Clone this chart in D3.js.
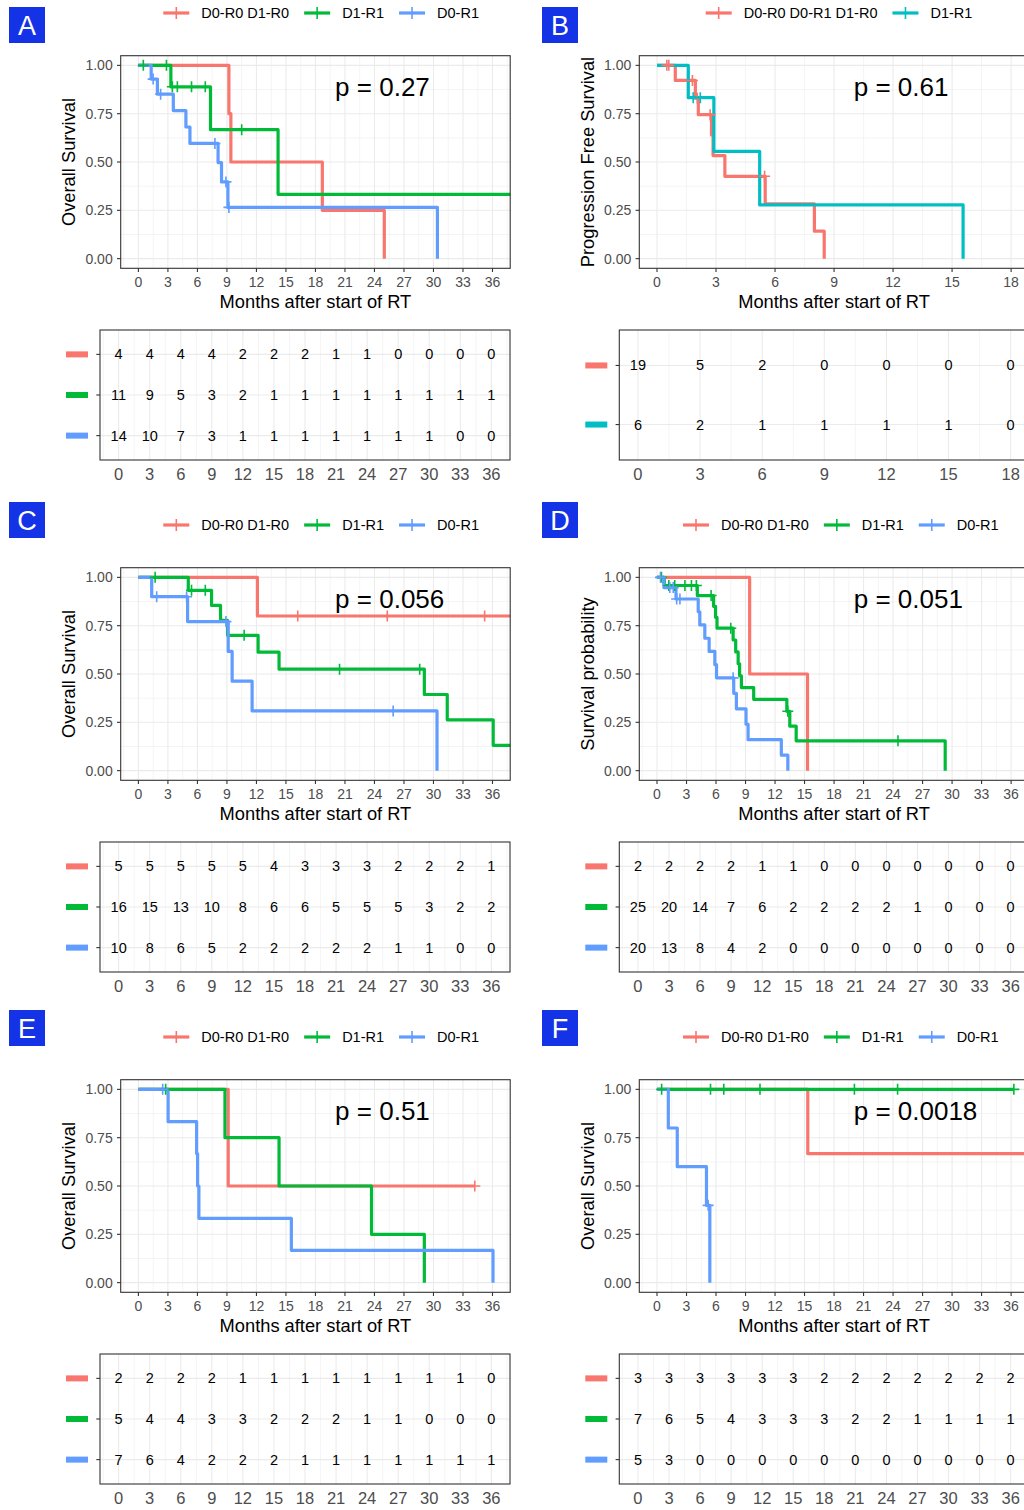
<!DOCTYPE html>
<html>
<head>
<meta charset="utf-8">
<script src="https://cdn.jsdelivr.net/npm/d3@7"></script>
<style>
  body { margin: 0; background: #fff; }
  svg { display: block; font-family: "Liberation Sans", Arial, Helvetica, sans-serif; }
</style>
</head>
<body>
<svg id="fig" width="1024" height="1510"></svg>
<script>
// ---------- shared labels ----------
const panelIds = ["A", "B", "C", "D", "E", "F"];
const yTitles = ["Overall Survival", "Progression Free Survival", "Overall Survival",
                 "Survival probability", "Overall Survival", "Overall Survival"];
const pValues = ["p = 0.27", "p = 0.61", "p = 0.056", "p = 0.051", "p = 0.51", "p = 0.0018"];
const xTitle = "Months after start of RT";
const groupsThree = ["D0-R0 D1-R0", "D1-R1", "D0-R1"];
const groupsTwo = ["D0-R0 D0-R1 D1-R0", "D1-R1"];
const ticks36 = [0, 3, 6, 9, 12, 15, 18, 21, 24, 27, 30, 33, 36];
const ticks18 = [0, 3, 6, 9, 12, 15, 18];
const yTicks = [0, 0.25, 0.5, 0.75, 1];
const yTickLabels = ["0.00", "0.25", "0.50", "0.75", "1.00"];

const COL_RED = "#F8766D", COL_GREEN = "#00BA38", COL_BLUE = "#619CFF", COL_TEAL = "#00BFC4";

// ---------- A: overall survival ----------
// steps: [time, survival after the event]; censor: times of censored patients; end: last follow-up
const A_red_steps = [[9.2, 0.75], [9.4, 0.5], [18.7, 0.25], [25.0, 0]];
const A_red_censor = [];
const A_red_end = 25.0;
const A_green_steps = [[3.3, 0.889], [7.33, 0.667], [14.2, 0.333]];
const A_green_censor = [0.5, 2.85, 3.45, 3.96, 5.4, 6.8, 10.5];
const A_green_end = 40;
const A_blue_steps = [[1.3, 0.929], [1.93, 0.851], [3.55, 0.766], [4.83, 0.681], [5.24, 0.596],
                      [8.1, 0.497], [8.45, 0.397], [9.1, 0.265], [30.4, 0]];
const A_blue_censor = [1.5, 2.26, 7.78, 8.9, 9.2];
const A_blue_end = 30.4;
const A_risk_red = [4, 4, 4, 4, 2, 2, 2, 1, 1, 0, 0, 0, 0];
const A_risk_green = [11, 9, 5, 3, 2, 1, 1, 1, 1, 1, 1, 1, 1];
const A_risk_blue = [14, 10, 7, 3, 1, 1, 1, 1, 1, 1, 1, 0, 0];

// ---------- B: progression free survival ----------
const B_red_steps = [[0.93, 0.922], [1.95, 0.83], [2.1, 0.745], [2.77, 0.64], [2.85, 0.533],
                     [3.45, 0.426], [5.5, 0.284], [8.0, 0.142], [8.5, 0]];
const B_red_censor = [0.5, 0.6, 1.8, 2.05, 2.7, 5.47];
const B_red_end = 8.5;
const B_teal_steps = [[1.59, 0.833], [2.89, 0.555], [5.22, 0.278], [15.56, 0]];
const B_teal_censor = [1.84, 2.2];
const B_teal_end = 15.56;
const B_risk_red = [19, 5, 2, 0, 0, 0, 0];
const B_risk_teal = [6, 2, 1, 1, 1, 1, 0];

// ---------- C ----------
const C_red_steps = [[12.1, 0.8]];
const C_red_censor = [16.2, 25.3, 35.2];
const C_red_end = 40;
const C_green_steps = [[5.07, 0.933], [7.44, 0.855], [8.35, 0.778], [9.06, 0.700], [12.17, 0.613],
                       [14.3, 0.525], [29.07, 0.394], [31.4, 0.263], [36.07, 0.131]];
const C_green_censor = [1.7, 5.4, 6.8, 10.75, 20.45, 28.6];
const C_green_end = 40;
const C_blue_steps = [[1.35, 0.9], [5.0, 0.771], [9.13, 0.617], [9.53, 0.463], [11.56, 0.309], [30.36, 0]];
const C_blue_censor = [1.86, 4.9, 8.9, 25.9];
const C_blue_end = 30.36;
const C_risk_red = [5, 5, 5, 5, 5, 4, 3, 3, 3, 2, 2, 2, 1];
const C_risk_green = [16, 15, 13, 10, 8, 6, 6, 5, 5, 5, 3, 2, 2];
const C_risk_blue = [10, 8, 6, 5, 2, 2, 2, 2, 2, 1, 1, 0, 0];

// ---------- D ----------
const D_red_steps = [[9.42, 0.5], [15.3, 0]];
const D_red_censor = [];
const D_red_end = 15.3;
const D_green_steps = [[0.74, 0.958], [4.1, 0.906], [5.75, 0.85], [5.95, 0.793], [6.1, 0.737],
                       [7.74, 0.676], [8.0, 0.614], [8.25, 0.553], [8.4, 0.491], [8.58, 0.430],
                       [9.83, 0.369], [13.2, 0.307], [13.5, 0.230], [14.15, 0.154], [29.3, 0]];
const D_green_censor = [0.45, 1.2, 1.8, 2.84, 3.5, 4.0, 5.5, 7.5, 13.3, 24.5];
const D_green_end = 29.3;
const D_blue_steps = [[0.7, 0.947], [1.93, 0.888], [4.19, 0.822], [4.35, 0.754], [4.86, 0.685],
                      [5.3, 0.617], [5.88, 0.548], [6.05, 0.480], [7.8, 0.40], [8.07, 0.32],
                      [9.05, 0.24], [9.26, 0.16], [12.64, 0.08], [13.3, 0]];
const D_blue_censor = [0.35, 1.3, 1.65, 2.0, 2.33, 7.74];
const D_blue_end = 13.3;
const D_risk_red = [2, 2, 2, 2, 1, 1, 0, 0, 0, 0, 0, 0, 0];
const D_risk_green = [25, 20, 14, 7, 6, 2, 2, 2, 2, 1, 0, 0, 0];
const D_risk_blue = [20, 13, 8, 4, 2, 0, 0, 0, 0, 0, 0, 0, 0];

// ---------- E ----------
const E_red_steps = [[9.13, 0.5]];
const E_red_censor = [34.2];
const E_red_end = 34.2;
const E_green_steps = [[8.8, 0.75], [14.3, 0.5], [23.7, 0.25], [29.07, 0]];
const E_green_censor = [2.77];
const E_green_end = 29.07;
const E_blue_steps = [[3.02, 0.833], [5.92, 0.667], [6.02, 0.5], [6.15, 0.333], [15.55, 0.167], [36.05, 0]];
const E_blue_censor = [2.47];
const E_blue_end = 36.05;
const E_risk_red = [2, 2, 2, 2, 1, 1, 1, 1, 1, 1, 1, 1, 0];
const E_risk_green = [5, 4, 4, 3, 3, 2, 2, 2, 1, 1, 0, 0, 0];
const E_risk_blue = [7, 6, 4, 2, 2, 2, 1, 1, 1, 1, 1, 1, 1];

// ---------- F ----------
const F_red_steps = [[15.33, 0.667]];
const F_red_censor = [];
const F_red_end = 40;
const F_green_steps = [];
const F_green_censor = [0.47, 5.44, 6.79, 10.47, 20.07, 24.46, 36.28];
const F_green_end = 36.28;
const F_blue_steps = [[1.15, 0.8], [2.06, 0.6], [5.03, 0.4], [5.37, 0]];
const F_blue_censor = [5.2];
const F_blue_end = 5.37;
const F_risk_red = [3, 3, 3, 3, 3, 3, 2, 2, 2, 2, 2, 2, 2];
const F_risk_green = [7, 6, 5, 4, 3, 3, 3, 2, 2, 1, 1, 1, 1];
const F_risk_blue = [5, 3, 0, 0, 0, 0, 0, 0, 0, 0, 0, 0, 0];

// ---------- assemble panel specs ----------
function grp(name, color, steps, censor, end, risk) {
  return { name, color, steps, censor, end, risk };
}
const panels = [
  { row: 0, col: 0, ticks: ticks36, legendX: 163.3, groups: [
    grp(groupsThree[0], COL_RED, A_red_steps, A_red_censor, A_red_end, A_risk_red),
    grp(groupsThree[1], COL_GREEN, A_green_steps, A_green_censor, A_green_end, A_risk_green),
    grp(groupsThree[2], COL_BLUE, A_blue_steps, A_blue_censor, A_blue_end, A_risk_blue)] },
  { row: 0, col: 1, ticks: ticks18, legendX: 705.7, groups: [
    grp(groupsTwo[0], COL_RED, B_red_steps, B_red_censor, B_red_end, B_risk_red),
    grp(groupsTwo[1], COL_TEAL, B_teal_steps, B_teal_censor, B_teal_end, B_risk_teal)] },
  { row: 1, col: 0, ticks: ticks36, legendX: 163.3, groups: [
    grp(groupsThree[0], COL_RED, C_red_steps, C_red_censor, C_red_end, C_risk_red),
    grp(groupsThree[1], COL_GREEN, C_green_steps, C_green_censor, C_green_end, C_risk_green),
    grp(groupsThree[2], COL_BLUE, C_blue_steps, C_blue_censor, C_blue_end, C_risk_blue)] },
  { row: 1, col: 1, ticks: ticks36, legendX: 683, groups: [
    grp(groupsThree[0], COL_RED, D_red_steps, D_red_censor, D_red_end, D_risk_red),
    grp(groupsThree[1], COL_GREEN, D_green_steps, D_green_censor, D_green_end, D_risk_green),
    grp(groupsThree[2], COL_BLUE, D_blue_steps, D_blue_censor, D_blue_end, D_risk_blue)] },
  { row: 2, col: 0, ticks: ticks36, legendX: 163.3, groups: [
    grp(groupsThree[0], COL_RED, E_red_steps, E_red_censor, E_red_end, E_risk_red),
    grp(groupsThree[1], COL_GREEN, E_green_steps, E_green_censor, E_green_end, E_risk_green),
    grp(groupsThree[2], COL_BLUE, E_blue_steps, E_blue_censor, E_blue_end, E_risk_blue)] },
  { row: 2, col: 1, ticks: ticks36, legendX: 683, groups: [
    grp(groupsThree[0], COL_RED, F_red_steps, F_red_censor, F_red_end, F_risk_red),
    grp(groupsThree[1], COL_GREEN, F_green_steps, F_green_censor, F_green_end, F_risk_green),
    grp(groupsThree[2], COL_BLUE, F_blue_steps, F_blue_censor, F_blue_end, F_risk_blue)] }
];
panels.forEach((p, i) => { p.id = panelIds[i]; p.yTitle = yTitles[i]; p.pval = pValues[i]; });

// ---------- layout ----------
const ROW_H = 512;
const PLOT_L0 = 120.7, COL_DX = 518.6, PLOT_W = 389.5, PLOT_T = 55.7, PLOT_B = 268.3;
const TABLE_L0 = 100, TABLE_DX = 519.3, TABLE_W = 410, TABLE_T = 330, TABLE_B = 460;
const TAG_POS = [[9, 7], [542, 7], [9, 502], [542, 502], [9, 1010], [542, 1010]];
const GRID = "#EBEBEB", BORDER = "#333333", TICK_TXT = "#4D4D4D";
const LINE_W = 3.2;

const svg = d3.select("#fig");
svg.append("rect").attr("width", 1024).attr("height", 1510).attr("fill", "#fff");

function survAt(steps, t) {
  let s = 1;
  for (const [tt, v] of steps) { if (tt <= t) s = v; }
  return s;
}

function plus(g, cx, cy, color, half, w) {
  g.append("line").attr("x1", cx - half).attr("x2", cx + half).attr("y1", cy).attr("y2", cy)
    .attr("stroke", color).attr("stroke-width", w);
  g.append("line").attr("x1", cx).attr("x2", cx).attr("y1", cy - half).attr("y2", cy + half)
    .attr("stroke", color).attr("stroke-width", w);
}

function drawPanel(p, idx) {
  const oy = p.row * ROW_H;
  const L = PLOT_L0 + p.col * COL_DX, R = L + PLOT_W, T = PLOT_T + oy, B = PLOT_B + oy;
  const xMax = p.ticks[p.ticks.length - 1];
  const step = p.ticks[1] - p.ticks[0];
  const dom = [-0.05 * xMax, 1.05 * xMax];
  const x = d3.scaleLinear().domain(dom).range([L, R]);
  const y = d3.scaleLinear().domain([-0.05, 1.05]).range([B, T]);
  const g = svg.append("g");

  // grid
  const xMinor = d3.range(-step / 2, dom[1], step).filter(v => v > dom[0]);
  const yMinor = [0.125, 0.375, 0.625, 0.875];
  xMinor.forEach(v => g.append("line").attr("x1", x(v)).attr("x2", x(v)).attr("y1", T).attr("y2", B)
    .attr("stroke", GRID).attr("stroke-width", 0.55));
  yMinor.forEach(v => g.append("line").attr("x1", L).attr("x2", R).attr("y1", y(v)).attr("y2", y(v))
    .attr("stroke", GRID).attr("stroke-width", 0.55));
  p.ticks.forEach(v => g.append("line").attr("x1", x(v)).attr("x2", x(v)).attr("y1", T).attr("y2", B)
    .attr("stroke", GRID).attr("stroke-width", 1.1));
  yTicks.forEach(v => g.append("line").attr("x1", L).attr("x2", R).attr("y1", y(v)).attr("y2", y(v))
    .attr("stroke", GRID).attr("stroke-width", 1.1));

  // curves
  const clipId = "clip" + p.id;
  svg.append("clipPath").attr("id", clipId).append("rect")
    .attr("x", L).attr("y", T).attr("width", R - L).attr("height", B - T);
  const cg = g.append("g").attr("clip-path", `url(#${clipId})`);
  const line = d3.line().x(d => x(d[0])).y(d => y(d[1]));
  p.groups.forEach(gr => {
    const pts = [[0, 1]];
    let s = 1;
    gr.steps.forEach(([t, v]) => { pts.push([t, s]); pts.push([t, v]); s = v; });
    pts.push([gr.end, s]);
    cg.append("path").attr("d", line(pts)).attr("fill", "none").attr("stroke", gr.color)
      .attr("stroke-width", LINE_W).attr("stroke-linejoin", "round").attr("stroke-linecap", "butt");
  });
  p.groups.forEach(gr => {
    gr.censor.forEach(t => plus(cg, x(t), y(survAt(gr.steps, t)), gr.color, 5.5, 1.6));
  });

  // border
  g.append("rect").attr("x", L).attr("y", T).attr("width", R - L).attr("height", B - T)
    .attr("fill", "none").attr("stroke", BORDER).attr("stroke-width", 1.1);

  // axes
  p.ticks.forEach(v => {
    g.append("line").attr("x1", x(v)).attr("x2", x(v)).attr("y1", B).attr("y2", B + 3.7)
      .attr("stroke", BORDER).attr("stroke-width", 1.1);
    g.append("text").attr("x", x(v)).attr("y", B + 14).attr("text-anchor", "middle")
      .attr("dominant-baseline", "central").attr("font-size", 14).attr("fill", TICK_TXT).text(v);
  });
  yTicks.forEach((v, i) => {
    g.append("line").attr("x1", L - 3.7).attr("x2", L).attr("y1", y(v)).attr("y2", y(v))
      .attr("stroke", BORDER).attr("stroke-width", 1.1);
    g.append("text").attr("x", L - 8).attr("y", y(v)).attr("text-anchor", "end")
      .attr("dominant-baseline", "central").attr("font-size", 14).attr("fill", TICK_TXT).text(yTickLabels[i]);
  });
  g.append("text").attr("x", (L + R) / 2).attr("y", B + 33).attr("text-anchor", "middle")
    .attr("dominant-baseline", "central").attr("font-size", 18.3).attr("fill", "#000").text(xTitle);
  g.append("text").attr("transform", `translate(${L - 52},${(T + B) / 2}) rotate(-90)`)
    .attr("text-anchor", "middle").attr("dominant-baseline", "central")
    .attr("font-size", 18.3).attr("fill", "#000").text(p.yTitle);

  // p-value
  g.append("text").attr("x", x(xMax / 1.8)).attr("y", y(0.89)).attr("dominant-baseline", "central")
    .attr("font-size", 26).attr("fill", "#000").text(p.pval);

  // legend
  let lx = p.legendX;
  const ly = 13 + oy;
  p.groups.forEach(gr => {
    g.append("line").attr("x1", lx).attr("x2", lx + 26).attr("y1", ly).attr("y2", ly)
      .attr("stroke", gr.color).attr("stroke-width", LINE_W);
    g.append("line").attr("x1", lx + 13).attr("x2", lx + 13).attr("y1", ly - 6).attr("y2", ly + 6)
      .attr("stroke", gr.color).attr("stroke-width", 1.6);
    const t = g.append("text").attr("x", lx + 38).attr("y", ly).attr("dominant-baseline", "central")
      .attr("font-size", 14.5).attr("fill", "#000").text(gr.name);
    lx = lx + 38 + t.node().getComputedTextLength() + 15;
  });

  // tag
  const [tx, ty] = TAG_POS[idx];
  g.append("rect").attr("x", tx).attr("y", ty).attr("width", 36).attr("height", 36).attr("fill", "#1432E6");
  g.append("text").attr("x", tx + 18).attr("y", ty + 19).attr("text-anchor", "middle")
    .attr("dominant-baseline", "central").attr("font-size", 27).attr("fill", "#fff").text(p.id);

  // risk table
  const TL = TABLE_L0 + p.col * TABLE_DX, TR = TL + TABLE_W, TT = TABLE_T + oy, TB = TABLE_B + oy;
  const xt = d3.scaleLinear().domain(dom).range([TL, TR]);
  const n = p.groups.length;
  const yt = d3.scaleLinear().domain([0.4, n + 0.6]).range([TT, TB]);
  const tg = g.append("g");
  xMinor.forEach(v => tg.append("line").attr("x1", xt(v)).attr("x2", xt(v)).attr("y1", TT).attr("y2", TB)
    .attr("stroke", GRID).attr("stroke-width", 0.55));
  p.ticks.forEach(v => tg.append("line").attr("x1", xt(v)).attr("x2", xt(v)).attr("y1", TT).attr("y2", TB)
    .attr("stroke", GRID).attr("stroke-width", 1.1));
  p.groups.forEach((gr, i) => {
    const ry = yt(i + 1);
    tg.append("line").attr("x1", TL).attr("x2", TR).attr("y1", ry).attr("y2", ry)
      .attr("stroke", GRID).attr("stroke-width", 1.1);
  });
  p.groups.forEach((gr, i) => {
    const ry = yt(i + 1);
    gr.risk.forEach((v, j) => {
      tg.append("text").attr("x", xt(p.ticks[j])).attr("y", ry).attr("text-anchor", "middle")
        .attr("dominant-baseline", "central").attr("font-size", 14.5).attr("fill", "#000").text(v);
    });
    tg.append("rect").attr("x", TL - 34).attr("y", ry - 3).attr("width", 22).attr("height", 6)
      .attr("fill", gr.color);
    tg.append("line").attr("x1", TL - 3.7).attr("x2", TL).attr("y1", ry).attr("y2", ry)
      .attr("stroke", BORDER).attr("stroke-width", 1.1);
  });
  tg.append("rect").attr("x", TL).attr("y", TT).attr("width", TR - TL).attr("height", TB - TT)
    .attr("fill", "none").attr("stroke", BORDER).attr("stroke-width", 1.1);
  p.ticks.forEach(v => {
    tg.append("text").attr("x", xt(v)).attr("y", TB + 14).attr("text-anchor", "middle")
      .attr("dominant-baseline", "central").attr("font-size", 16.5).attr("fill", TICK_TXT).text(v);
  });
}

panels.forEach((p, i) => drawPanel(p, i));
</script>
</body>
</html>
